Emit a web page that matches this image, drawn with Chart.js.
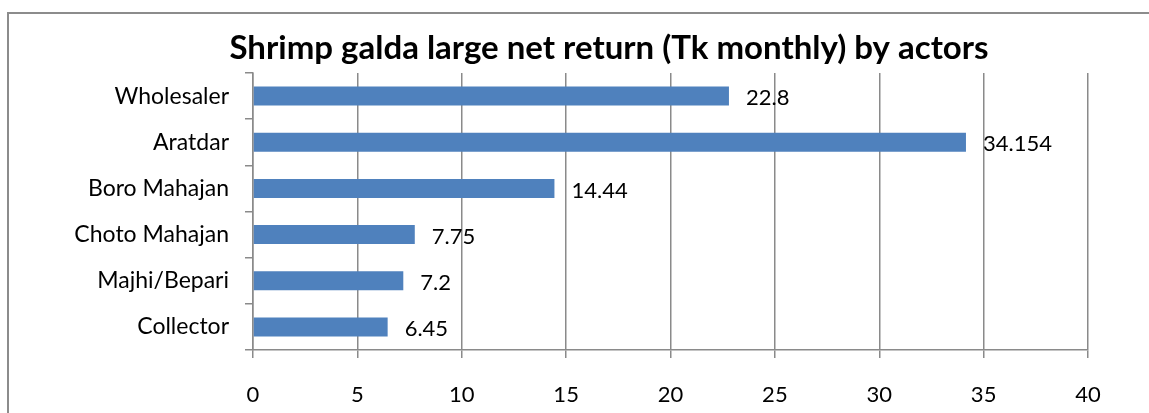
<!DOCTYPE html>
<html>
<head>
<meta charset="utf-8">
<script src="https://cdn.jsdelivr.net/npm/chart.js@4"></script>
<style>
  html, body { margin: 0; padding: 0; background: #fff; overflow: hidden; }
  #wrap { position: relative; width: 1149px; height: 413px; }
  #frame { position: absolute; left: 7px; top: 12px; width: 1300px; height: 600px; border: 2px solid #8c8c8c; box-sizing: border-box; }
  #myChart { position: absolute; left: 0; top: 0; }
</style>
</head>
<body>
<div id="wrap">
  <div id="frame"></div>
  <canvas id="myChart" width="1149" height="413"></canvas>
</div>
<script>
// data
const actors = ['Wholesaler', 'Aratdar', 'Boro Mahajan', 'Choto Mahajan', 'Majhi/Bepari', 'Collector'];
const netReturn = [22.8, 34.154, 14.44, 7.75, 7.2, 6.45];
const xTicks = [0, 5, 10, 15, 20, 25, 30, 35, 40];
const chartTitle = 'Shrimp galda large net return (Tk monthly) by actors';

const fontName = 'Lato, "Open Sans", sans-serif';

// title is not centred on the canvas in the original, so draw it here
const titleText = {
  id: 'titleText',
  afterDraw(chart) {
    const c = chart.ctx;
    c.save();
    c.font = 'bold 33px ' + fontName;
    c.fillStyle = '#000';
    c.textAlign = 'center';
    c.textBaseline = 'alphabetic';
    c.fillText(chartTitle, 609, 59);
    c.restore();
  }
};

// value next to each bar
const barValues = {
  id: 'barValues',
  afterDatasetsDraw(chart) {
    const c = chart.ctx;
    const meta = chart.getDatasetMeta(0);
    c.save();
    c.font = '22px ' + fontName;
    c.fillStyle = '#000';
    c.textAlign = 'left';
    c.textBaseline = 'middle';
    meta.data.forEach(function(bar, i) {
      c.fillText(String(netReturn[i]), bar.x + 17, bar.y + 2);
    });
    c.restore();
  }
};

const ctx = document.getElementById('myChart');
new Chart(ctx, {
  type: 'bar',
  data: {
    labels: actors,
    datasets: [{
      label: 'Net return',
      data: netReturn,
      backgroundColor: '#4F81BD',
      borderWidth: 0,
      barPercentage: 0.41,
      categoryPercentage: 1
    }]
  },
  options: {
    indexAxis: 'y',
    responsive: false,
    animation: false,
    layout: { padding: { left: 0, right: 61, top: 73, bottom: 0 } },
    plugins: {
      legend: { display: false },
      tooltip: { enabled: false },
      title: { display: false }
    },
    scales: {
      x: {
        min: 0,
        max: 40,
        afterFit: function(scale) { scale.height = 63; },
        afterBuildTicks: function(scale) {
          scale.ticks = xTicks.map(function(v) { return { value: v }; });
        },
        grid: { color: '#8a8a8a', lineWidth: 1.5, tickLength: 8, drawTicks: true },
        border: { display: true, color: '#8a8a8a', width: 1.5 },
        ticks: { color: '#000', padding: 24, font: { family: fontName, size: 22 } }
      },
      y: {
        afterFit: function(scale) { scale.width = 253; },
        grid: { display: true, drawOnChartArea: false, drawTicks: true, tickLength: 8, offset: true, color: '#8a8a8a', lineWidth: 1.5 },
        border: { display: true, color: '#8a8a8a', width: 1.5 },
        ticks: { color: '#000', padding: 16, font: { family: fontName, size: 23 } }
      }
    }
  },
  plugins: [barValues, titleText]
});
</script>
</body>
</html>
